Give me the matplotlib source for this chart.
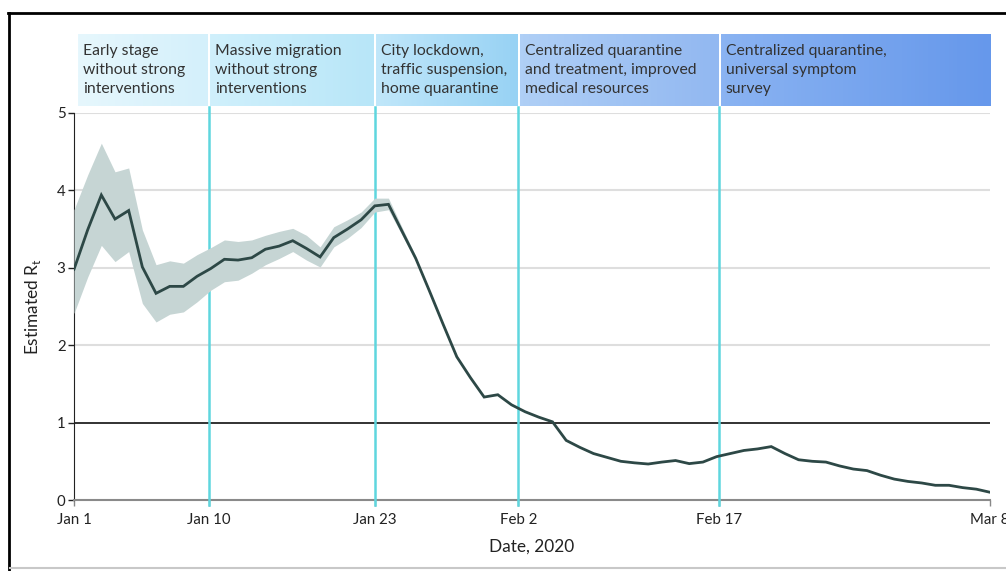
import numpy as np
import matplotlib
matplotlib.use("Agg")
import matplotlib.pyplot as plt
from matplotlib.colors import LinearSegmentedColormap
from matplotlib.lines import Line2D

plt.rcParams['font.family'] = ['Lato', 'DejaVu Sans']

# ---- data (day 0 = Jan 1) ----
rt_values = [2.98, 3.49, 3.94, 3.63, 3.74, 3.01, 2.67, 2.76, 2.76, 2.89,
             2.99, 3.11, 3.10, 3.13, 3.24, 3.28, 3.35, 3.25, 3.14, 3.39,
             3.50, 3.62, 3.80, 3.82, 3.47, 3.12, 2.70, 2.27, 1.85, 1.58,
             1.33, 1.36, 1.23, 1.14, 1.07, 1.01, 0.77, 0.68, 0.60, 0.55,
             0.50, 0.48, 0.465, 0.49, 0.51, 0.47, 0.49, 0.56, 0.60, 0.64,
             0.66, 0.69, 0.60, 0.52, 0.50, 0.49, 0.44, 0.40, 0.38, 0.32,
             0.27, 0.24, 0.22, 0.19, 0.19, 0.16, 0.14, 0.10]

# credible interval, only visible for the first weeks
rt_lower = [2.41, 2.88, 3.29, 3.08, 3.21, 2.54, 2.30, 2.40, 2.43, 2.56,
            2.71, 2.82, 2.84, 2.93, 3.04, 3.12, 3.21, 3.10, 3.01, 3.27,
            3.38, 3.52, 3.72, 3.75, 3.42, 3.09]
rt_upper = [3.75, 4.20, 4.61, 4.24, 4.29, 3.49, 3.04, 3.09, 3.06, 3.17,
            3.26, 3.36, 3.34, 3.36, 3.42, 3.47, 3.51, 3.42, 3.27, 3.53,
            3.62, 3.72, 3.90, 3.90, 3.52, 3.15]

# phase boundaries (day index as placed on the chart)
phase_edges = [0, 9.85, 22, 32.5, 47.2, 67]
tick_labels = ["Jan 1", "Jan 10", "Jan 23", "Feb 2", "Feb 17", "Mar 8"]

phase_names = [
    "Early stage\nwithout strong\ninterventions",
    "Massive migration\nwithout strong\ninterventions",
    "City lockdown,\ntraffic suspension,\nhome quarantine",
    "Centralized quarantine\nand treatment, improved\nmedical resources",
    "Centralized quarantine,\nuniversal symptom\nsurvey",
]
phase_colors = [("#e6f7fd", "#d4f0fb"), ("#d0f0fc", "#b8e6f8"),
                ("#c0e7fa", "#98d2f4"), ("#afcff6", "#92b8f1"),
                ("#8ab3f2", "#6698eb")]

days = np.arange(len(rt_values))

# ==========================================
# figure
# ==========================================
fig = plt.figure(figsize=(10.06, 5.71), dpi=100)
ax = fig.add_axes([74 / 1006, 1 - 500 / 571, 916 / 1006, 387 / 571])

for yv in [2, 3, 4, 5]:
    ax.axhline(yv, color="#dedede", lw=1.5, zorder=1)
ax.axhline(1, color="#222222", lw=1.3, zorder=2)

for e in phase_edges[1:-1]:
    ax.axvline(e, ymin=-0.012, ymax=1.015, color="#5fd6de", lw=1.8,
               zorder=3, clip_on=False)

ax.fill_between(days[:len(rt_lower)], rt_lower, rt_upper,
                color="#c6d5d4", lw=0, zorder=4)
ax.plot(days, rt_values, color="#2d4846", lw=2.0, zorder=5,
        solid_joinstyle="miter")

# header boxes with a light horizontal gradient
trans = ax.get_xaxis_transform()
gap = 0.09
for i, name in enumerate(phase_names):
    x0 = phase_edges[i] + (0.3 if i == 0 else gap)
    x1 = phase_edges[i + 1] - (0 if i == len(phase_names) - 1 else gap)
    cmap = LinearSegmentedColormap.from_list("h%d" % i, phase_colors[i])
    ax.imshow(np.linspace(0, 1, 64).reshape(1, -1), cmap=cmap,
              extent=[x0, x1, 1.018, 1.202], transform=trans,
              aspect="auto", clip_on=False, zorder=2)
    ax.annotate(name, xy=(phase_edges[i], 1.179), xycoords=trans,
                xytext=(4.5 if i else 6.5, 0), textcoords="offset points",
                ha="left", va="top", fontsize=11.3, color="#333333",
                linespacing=1.48, annotation_clip=False)

ax.set_xlim(0, 67)
ax.set_ylim(0, 5)

ax.set_xticks(phase_edges)
ax.set_xticklabels(tick_labels)
ax.set_yticks([0, 1, 2, 3, 4, 5])
ax.tick_params(axis="both", labelsize=10.8, colors="#222222", length=4,
               width=1)
ax.tick_params(axis="x", color="#888888", pad=5.5)
ax.tick_params(axis="y", pad=2)

for s in ["top", "right"]:
    ax.spines[s].set_visible(False)
ax.spines["left"].set_color("#222222")
ax.spines["bottom"].set_color("#8a8a8a")
ax.spines["bottom"].set_linewidth(1.5)

ax.set_xlabel("Date, 2020", fontsize=12.4, color="#222222", labelpad=8)
ax.set_ylabel(r"Estimated R$_\mathregular{t}$", fontsize=12.4,
              color="#222222", labelpad=10)

# screenshot frame
fig.add_artist(Line2D([8 / 1006, 1], [1 - 13 / 571] * 2, color="black",
                      lw=2, transform=fig.transFigure))
fig.add_artist(Line2D([9 / 1006] * 2, [0, 1 - 13 / 571], color="black",
                      lw=2, transform=fig.transFigure))
fig.add_artist(Line2D([10 / 1006, 1], [1 - 568 / 571] * 2, color="#c8c8c8",
                      lw=1.5, transform=fig.transFigure))

fig.savefig("out.png", dpi=100, facecolor="white")
